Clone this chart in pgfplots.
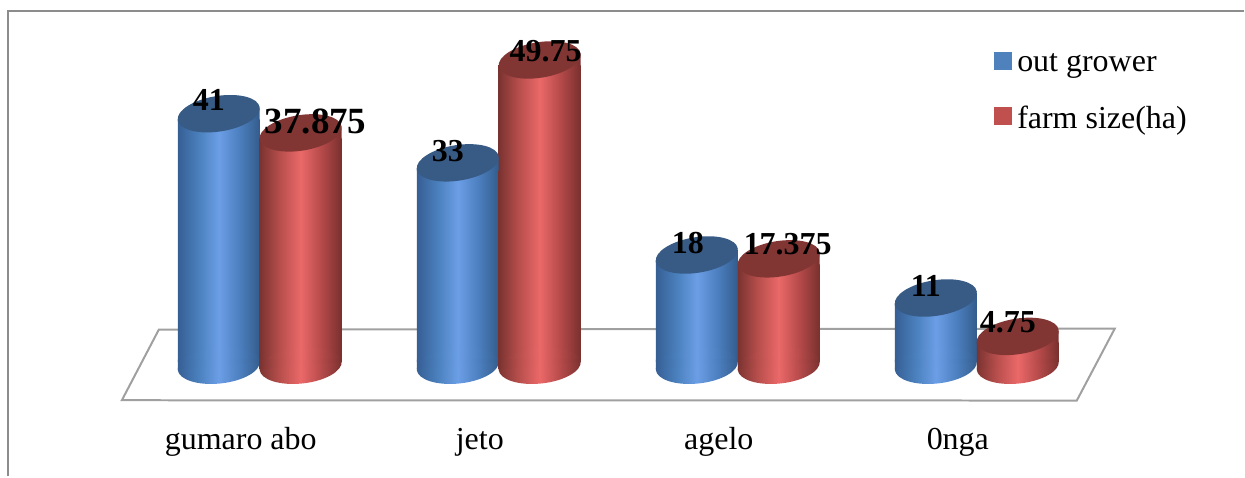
\documentclass[border=0pt]{standalone}
\usepackage{pgfplots}
\usepackage{fontspec}
\setmainfont{Liberation Serif}
\pgfplotsset{compat=1.18}
\definecolor{bluetopc}{HTML}{375B85}
\definecolor{redtopc}{HTML}{823634}
\definecolor{frameg}{HTML}{8C8C8C}
\definecolor{floorg}{HTML}{A0A0A0}
\definecolor{legb}{HTML}{4F81BD}
\definecolor{legr}{HTML}{C0504D}
\pgfdeclarehorizontalshading{bluecyl}{100bp}{rgb(0bp)=(0.21,0.37,0.58); rgb(25bp)=(0.21,0.37,0.58); rgb(37.5bp)=(0.29,0.50,0.74); rgb(50bp)=(0.42,0.62,0.90); rgb(62.5bp)=(0.30,0.50,0.75); rgb(75bp)=(0.20,0.36,0.55); rgb(100bp)=(0.20,0.36,0.55)}
\pgfdeclarehorizontalshading{redcyl}{100bp}{rgb(0bp)=(0.48,0.20,0.19); rgb(25bp)=(0.48,0.20,0.19); rgb(37.5bp)=(0.72,0.31,0.30); rgb(50bp)=(0.92,0.41,0.41); rgb(62.5bp)=(0.71,0.29,0.29); rgb(75bp)=(0.47,0.19,0.18); rgb(100bp)=(0.47,0.19,0.18)}
% cylinder caps, drawn as plot marks at the data points
\newcommand\topcap[2]{%
 \path[draw=none,shade,shading=#1] (-41bp,-5.3bp)--(41bp,5.3bp)--(41bp,-8bp)--(-41bp,-8bp)--cycle;
 \pgfpathellipse{\pgfpointorigin}{\pgfpointpolar{9}{41.5bp}}{\pgfpointpolar{99}{17.8bp}}%
 \pgfsetfillcolor{#2}\pgfusepath{fill}}
\newcommand\basecap[1]{%
 \pgfpathellipse{\pgfpointorigin}{\pgfpointpolar{6}{41.3bp}}{\pgfpointpolar{96}{18bp}}%
 \pgfshadepath{#1}{0}\pgfusepath{discard}%
 \path[draw=none,shade,shading=#1] (-41bp,-3.5bp)--(-41bp,6bp)--(41bp,6bp)--(41bp,3.5bp)--cycle;}
\pgfdeclareplotmark{bluetop}{\topcap{bluecyl}{bluetopc}}
\pgfdeclareplotmark{redtop}{\topcap{redcyl}{redtopc}}
\pgfdeclareplotmark{bluebase}{\basecap{bluecyl}}
\pgfdeclareplotmark{redbase}{\basecap{redcyl}}
% one cylinder: category, value, shading, cap names, side shift
\newcommand\cyl[4]{%
 \addplot[only marks,forget plot,mark=#3base,xshift=#4bp] coordinates {(#1,0)};
 \addplot[ybar,forget plot,bar width=82bp,bar shift=#4bp,draw=none,shade,shading=#3cyl,yshift=4bp,y filter/.expression={y-1.6}] coordinates {(#1,#2)};
 \addplot[only marks,forget plot,mark=#3top,xshift=#4bp] coordinates {(#1,#2)};
}
% one value label: category, value, dx, dy, font size
\newcommand\vlab[5]{%
 \addplot[forget plot,draw=none,mark=none,point meta=explicit symbolic,
  nodes near coords={\fontsize{#5}{#5}\selectfont\bfseries\pgfplotspointmeta},
  every node near coord/.append style={anchor=center,inner sep=0pt,xshift=#3bp,yshift=#4bp}]
  coordinates {(#1,#2) [#2]};
}
\begin{document}
\begin{tikzpicture}
\begin{axis}[
 scale only axis,
 width=1245bp, height=477bp,
 xmin=-1.0865, xmax=4.1162,
 ymin=-18.05, ymax=59.51,
 axis line style={draw=none},
 major tick length=0pt,
 ytick=\empty,
 xtick={0,1,2,3},
 xticklabels={gumaro abo,jeto,agelo,0nga},
 xtick pos=bottom,
 x tick label style={font=\fontsize{32.13}{32.13}\selectfont,anchor=base,xshift=-19bp,yshift=26.5bp},
 clip=false,
 legend cell align=left,
 legend style={draw=none,fill=none,at={(0.7992,0.8916)},anchor=north west,
   font=\fontsize{32.13}{32.13}\selectfont,inner sep=0pt,outer sep=0pt,
   /tikz/every odd column/.style={column sep=4bp},row sep=29bp},
]
% frame and floor
\draw[frameg,line width=2.8bp] (rel axis cs:0.00643,0)--(rel axis cs:0.00643,0.97694)--(rel axis cs:1,0.97694);
\draw[floorg,line width=2bp,line join=miter] (rel axis cs:0.09799,0.15996)--(rel axis cs:0.12771,0.30818)--(rel axis cs:0.89639,0.31027)--(rel axis cs:0.86586,0.15933)--cycle;
% out grower
\cyl{0}{41}{blue}{-41}
\cyl{1}{33}{blue}{-41}
\cyl{2}{18}{blue}{-41}
\cyl{3}{11}{blue}{-41}
% farm size(ha)
\cyl{0}{37.875}{red}{41}
\cyl{1}{49.75}{red}{41}
\cyl{2}{17.375}{red}{41}
\cyl{3}{4.75}{red}{41}
% value labels
\vlab{0}{41}{-51}{14}{32.13}
\vlab{1}{33}{-51}{12}{32.13}
\vlab{2}{18}{-50}{12}{32.13}
\vlab{3}{11}{-51}{12}{32.13}
\vlab{0}{37.875}{56}{11}{37.14}
\vlab{1}{49.75}{47}{9}{32.13}
\vlab{2}{17.375}{50}{15}{32.13}
\vlab{3}{4.75}{31}{14}{32.13}
\addlegendimage{legend image code/.code={\fill[legb] (0bp,-6bp) rectangle (17bp,11bp);}}
\addlegendentry{out grower}
\addlegendimage{legend image code/.code={\fill[legr] (0bp,-6bp) rectangle (17bp,11bp);}}
\addlegendentry{farm size(ha)}
\end{axis}
\end{tikzpicture}
\end{document}
